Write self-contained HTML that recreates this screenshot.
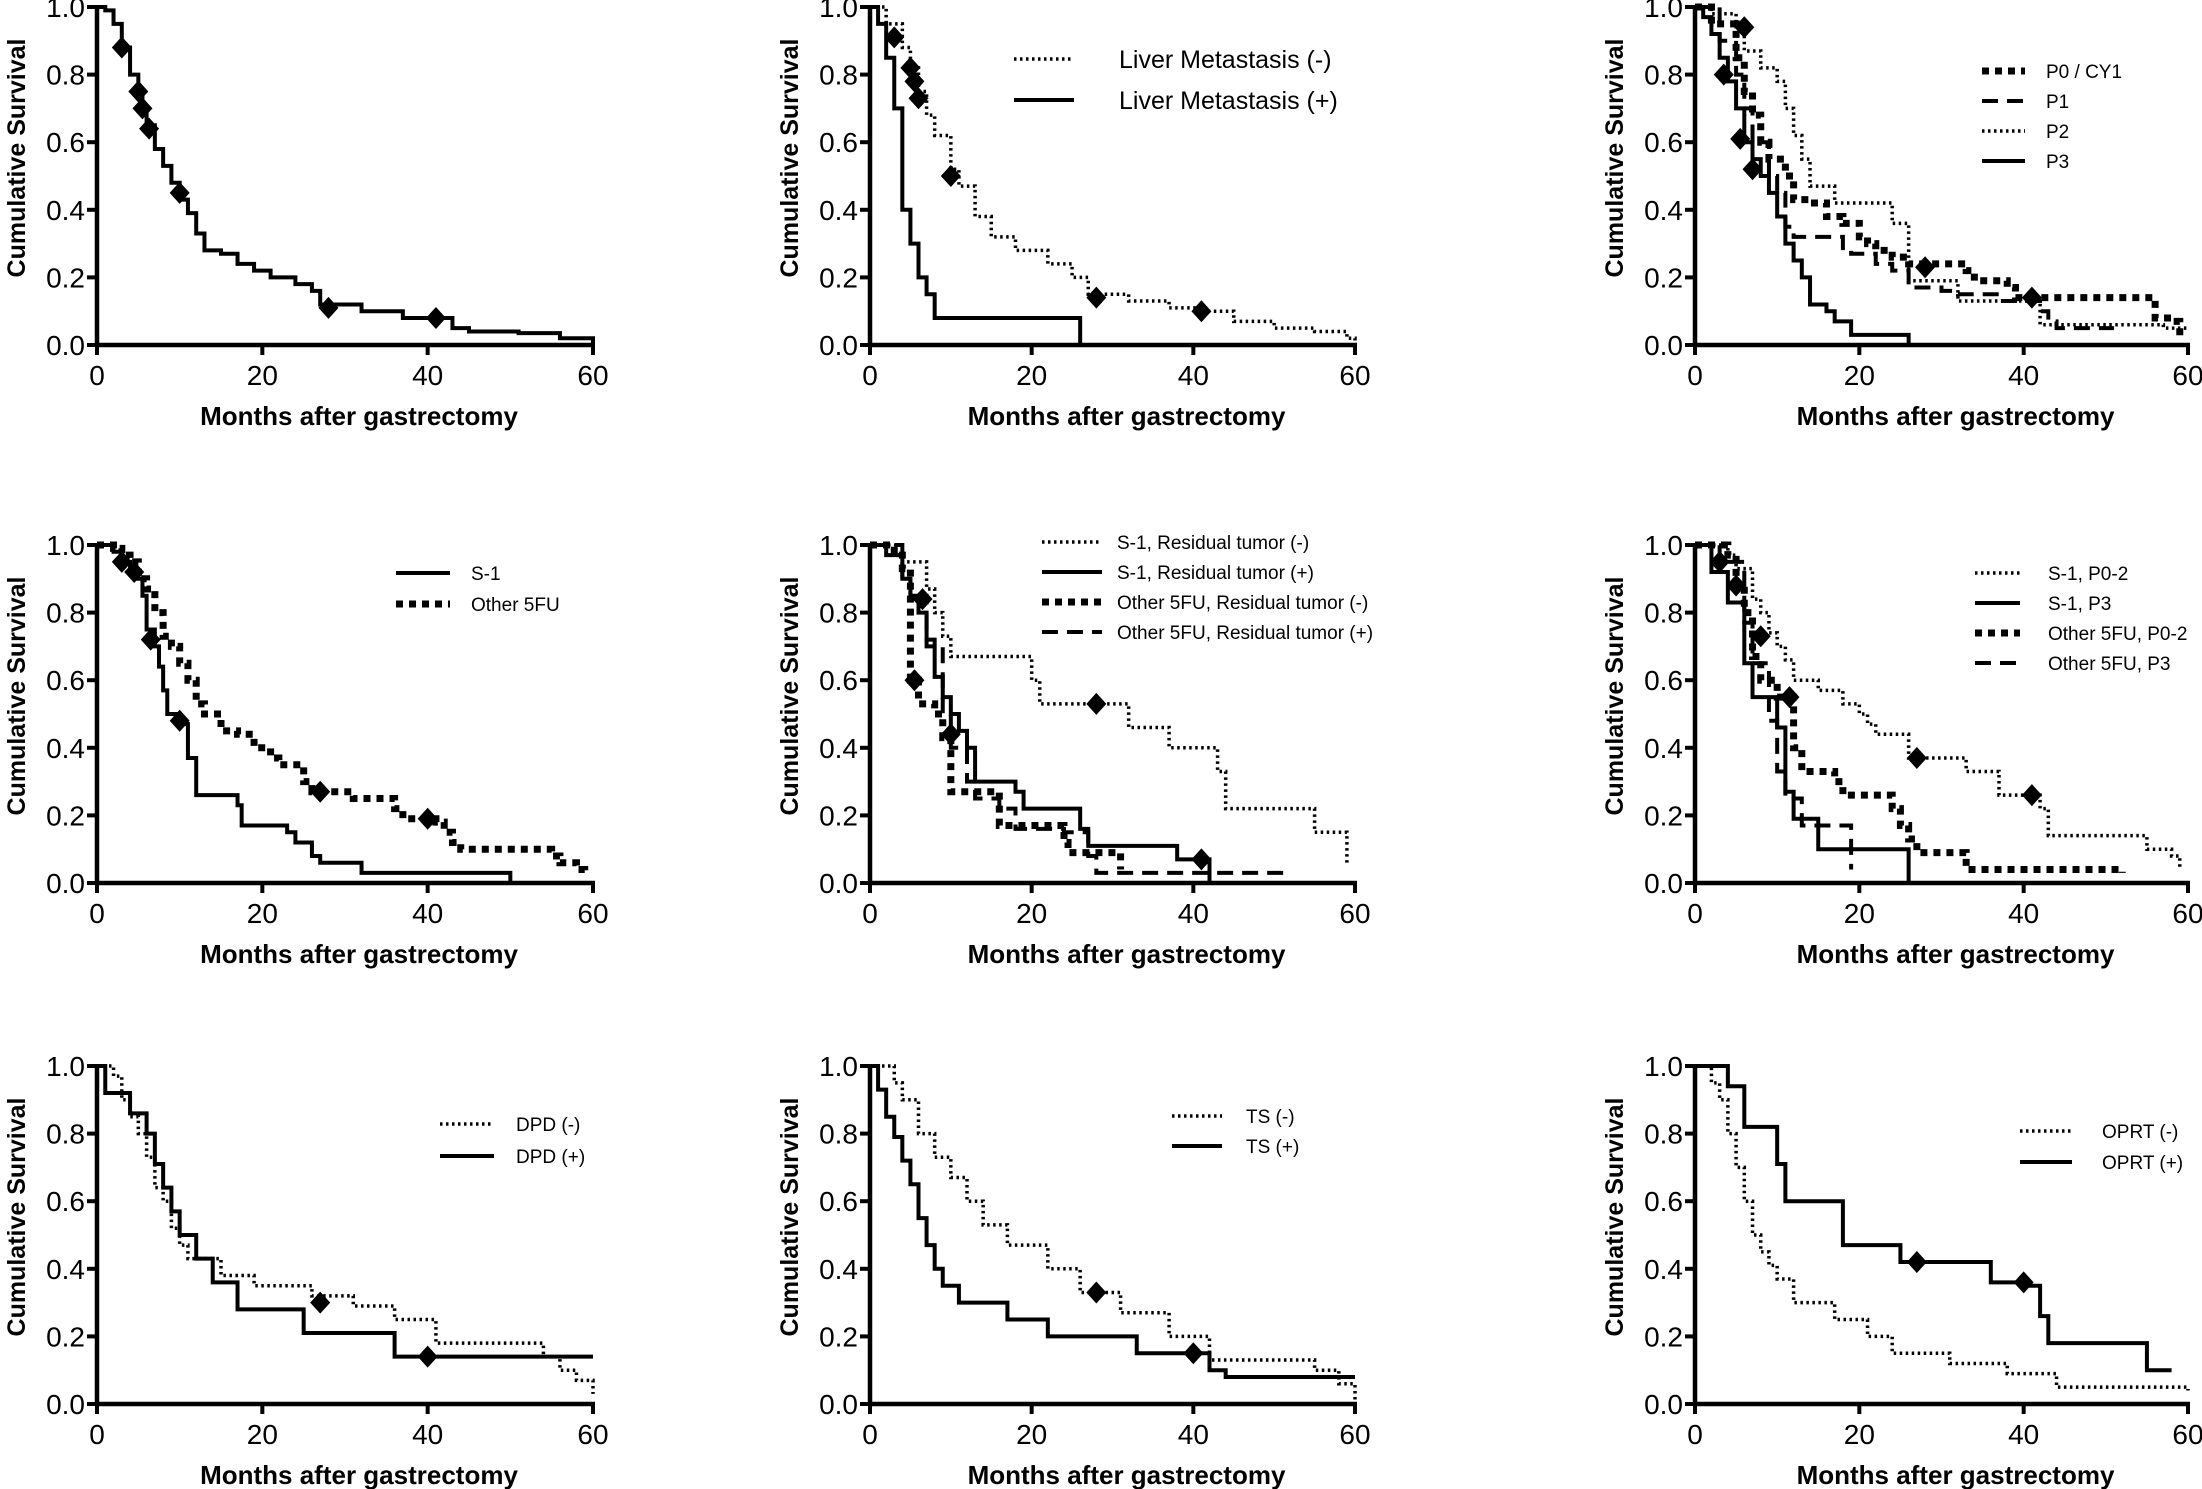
<!DOCTYPE html>
<html><head><meta charset="utf-8"><style>
html,body{margin:0;padding:0;background:#fff;}
svg{display:block;font-family:"Liberation Sans",Arial,sans-serif;}
</style></head><body>
<svg id="fig" width="2202" height="1489" viewBox="0 0 2202 1489" xmlns="http://www.w3.org/2000/svg"></svg>
<script>
// ===== Data (months, survival) =====
// Panel 1: overall
const p1_all_t=[0,1,2,3,4,5,5.5,6,7,8,9,10,11,12,13,15,17,19,21,24,26,27,32,37,43,45,51,56,60];
const p1_all_s=[1,0.99,0.95,0.88,0.8,0.75,0.7,0.65,0.58,0.53,0.48,0.43,0.39,0.33,0.28,0.27,0.24,0.22,0.2,0.18,0.16,0.12,0.1,0.08,0.05,0.04,0.035,0.02,0];
const p1_cen_t=[3,5,5.5,6.3,10,28,41];
const p1_cen_s=[0.88,0.75,0.70,0.64,0.45,0.11,0.08];
// Panel 2: liver metastasis
const p2_neg_t=[0,2,4,5,6,7,8,10,11,13,15,18,22,25,27,32,37,41,45,50,55,59,60];
const p2_neg_s=[1,0.95,0.88,0.82,0.75,0.68,0.62,0.52,0.47,0.38,0.32,0.28,0.24,0.2,0.15,0.13,0.11,0.1,0.07,0.05,0.04,0.02,0];
const p2_pos_t=[0,1,2,3,4,5,6,7,8,26];
const p2_pos_s=[1,0.95,0.85,0.7,0.4,0.3,0.2,0.15,0.08,0];
const p2_cen_t=[3,5,5.5,6,10,28,41];
const p2_cen_s=[0.91,0.82,0.78,0.73,0.5,0.14,0.1];
// Panel 3: peritoneal
const p3_p0_t=[0,2,5,6,7,8,9,11,12,14,16,18,20,21,22,24,26,33,34,38,39,56,58,59];
const p3_p0_s=[1,0.95,0.85,0.75,0.68,0.6,0.55,0.5,0.43,0.42,0.38,0.36,0.32,0.3,0.28,0.26,0.24,0.22,0.19,0.17,0.14,0.08,0.07,0.02];
const p3_p1_t=[0,3,5,6,7,9,10,11,12,18,19,22,24,26,30,32,37,42,43,44,51];
const p3_p1_s=[1,0.9,0.8,0.7,0.6,0.5,0.45,0.35,0.32,0.28,0.27,0.24,0.22,0.17,0.16,0.15,0.13,0.1,0.07,0.05,0.05];
const p3_p2_t=[0,2,5,6,8,10,11,12,13,14,17,24,26,32,42,56,57,60];
const p3_p2_s=[1,0.98,0.93,0.87,0.82,0.78,0.7,0.62,0.55,0.47,0.42,0.36,0.19,0.13,0.06,0.06,0.05,0.05];
const p3_p3_t=[0,1,2,3,4,5,6,7,8,9,10,11,12,13,14,16,17,19,26];
const p3_p3_s=[1,0.97,0.92,0.85,0.78,0.7,0.6,0.55,0.5,0.45,0.38,0.3,0.25,0.2,0.12,0.1,0.07,0.03,0];
const p3_cen_t=[6,3.5,5.5,7,28,41];
const p3_cen_s=[0.94,0.8,0.61,0.52,0.23,0.14];
// Panel 4: S-1 vs other 5FU
const p4_s1_t=[0,2,3,4,5,5.5,6,7,7.5,8,8.5,10,11,12,17,17.5,23,24,26,27,32,50];
const p4_s1_s=[1,0.98,0.95,0.92,0.9,0.85,0.75,0.7,0.64,0.57,0.5,0.47,0.37,0.26,0.23,0.17,0.15,0.12,0.08,0.06,0.03,0];
const p4_fu_t=[0,2,3,4,5,6,7,8,9,10,11,12,13,15,17,19,21,22,25,26,31,36,37,41,42,43,44,55,56,58,59];
const p4_fu_s=[1,0.99,0.97,0.95,0.9,0.87,0.8,0.73,0.7,0.65,0.6,0.53,0.5,0.45,0.44,0.4,0.37,0.35,0.3,0.27,0.25,0.22,0.19,0.18,0.15,0.12,0.1,0.08,0.06,0.04,0.02];
const p4_cen_t=[6.5,10,3,4.5,27,40];
const p4_cen_s=[0.72,0.48,0.95,0.92,0.27,0.19];
// Panel 5: drug x residual tumor
const p5_a_t=[0,4,7,8,9,10,20,21,32,37,43,44,55,59];
const p5_a_s=[1,0.95,0.87,0.8,0.73,0.67,0.6,0.53,0.46,0.4,0.33,0.22,0.15,0.06];
const p5_b_t=[0,2,4,5,6,7,8,9,10,11,12,13,15,18,19,26,27,38,42];
const p5_b_s=[1,0.97,0.9,0.85,0.8,0.72,0.61,0.55,0.5,0.45,0.4,0.3,0.3,0.27,0.22,0.16,0.11,0.07,0];
const p5_c_t=[0,3,4,5,6,8,9,10,15,16,24,24.5,31];
const p5_c_s=[1,0.97,0.93,0.6,0.53,0.5,0.43,0.27,0.27,0.17,0.12,0.09,0.04];
const p5_d_t=[0,4,5,7,9,10,12,13,16,18,24,27,28,52];
const p5_d_s=[1,0.9,0.85,0.7,0.5,0.4,0.3,0.25,0.22,0.16,0.15,0.08,0.03,0.03];
const p5_cen_t=[28,6.5,41,5.5,10];
const p5_cen_s=[0.53,0.84,0.07,0.6,0.44];
// Panel 6: drug x P stage
const p6_a_t=[0,3,4,5,7,8,9,10,11,12,15,18,20,21,22,26,33,37,42,43,55,58,59];
const p6_a_s=[1,1,0.97,0.93,0.84,0.8,0.74,0.7,0.66,0.6,0.57,0.53,0.5,0.47,0.44,0.37,0.33,0.26,0.22,0.14,0.1,0.08,0.04];
const p6_b_t=[0,2,4,6,7,10,11,12,15,26];
const p6_b_s=[1,0.92,0.83,0.65,0.55,0.46,0.27,0.19,0.1,0];
const p6_c_t=[0,4,5,6,7,8,10,12,13,17,18,24,25,26,27,33,52];
const p6_c_s=[1,0.97,0.88,0.8,0.67,0.6,0.55,0.4,0.33,0.3,0.26,0.22,0.17,0.13,0.09,0.04,0.03];
const p6_d_t=[0,3,6,7,9,10,11,13,18,19];
const p6_d_s=[1,0.95,0.77,0.65,0.48,0.33,0.25,0.17,0.17,0.04];
const p6_cen_t=[27,41,3,5,8,11.5];
const p6_cen_s=[0.37,0.26,0.95,0.88,0.73,0.55];
// Panel 7: DPD
const p7_neg_t=[0,2,3,4,5,6,7,8,9,10,11,15,19,26,31,36,41,54,56,58,60];
const p7_neg_s=[1,0.97,0.9,0.85,0.8,0.73,0.64,0.6,0.52,0.47,0.43,0.38,0.35,0.32,0.29,0.25,0.18,0.14,0.1,0.07,0.03];
const p7_pos_t=[0,1,4,6,7,8,9,10,12,14,17,25,36,60];
const p7_pos_s=[1,0.92,0.86,0.8,0.71,0.64,0.57,0.5,0.43,0.36,0.28,0.21,0.14,0.14];
const p7_cen_t=[27,40];
const p7_cen_s=[0.3,0.14];
// Panel 8: TS
const p8_neg_t=[0,3,4,6,8,10,12,14,17,22,26,31,37,42,55,58,60];
const p8_neg_s=[1,0.95,0.9,0.8,0.73,0.67,0.6,0.53,0.47,0.4,0.33,0.27,0.2,0.13,0.1,0.06,0];
const p8_pos_t=[0,1,2,3,4,5,6,7,8,9,11,17,22,33,42,44,60];
const p8_pos_s=[1,0.93,0.85,0.79,0.72,0.65,0.55,0.47,0.4,0.35,0.3,0.25,0.2,0.15,0.1,0.08,0.08];
const p8_cen_t=[28,40];
const p8_cen_s=[0.33,0.15];
// Panel 9: OPRT
const p9_neg_t=[0,2,3,4,5,6,7,8,9,10,12,17,21,24,31,38,44,60];
const p9_neg_s=[1,0.95,0.9,0.8,0.7,0.6,0.5,0.45,0.41,0.37,0.3,0.25,0.2,0.15,0.12,0.09,0.05,0.04];
const p9_pos_t=[0,4,6,10,11,18,25,36,40,42,43,55,58];
const p9_pos_s=[1,0.94,0.82,0.71,0.6,0.47,0.42,0.36,0.35,0.26,0.18,0.1,0.1];
const p9_cen_t=[27,40];
const p9_cen_s=[0.42,0.36];

const yTicks=["0.0","0.2","0.4","0.6","0.8","1.0"];
const xTicks=["0","20","40","60"];

const NS="http://www.w3.org/2000/svg";
const svg=document.getElementById('fig');
function el(tag,attrs,parent){const e=document.createElementNS(NS,tag);for(const k in attrs)e.setAttribute(k,attrs[k]);(parent||svg).appendChild(e);return e;}

const STY={
 solid:{w:4,d:null},
 dot:{w:3.5,d:"2.5 3.5"},
 bigdot:{w:7,d:"7 6"},
 dash:{w:4,d:"16 9"}
};

function panel(name,x0,x1,y1,y0,series,cenT,cenS,legend){
  const g=el('g',{});
  
  
  const X=t=>x0+(x1-x0)*t/60;
  const Y=s=>y0-(y0-y1)*s;
  // series
  series.forEach(sr=>{
    let d="M"+X(sr.t[0])+" "+Y(sr.s[0]);
    for(let i=1;i<sr.t.length;i++){d+=" H"+X(sr.t[i])+" V"+Y(sr.s[i]);}
    const st=STY[sr.style];
    const p=el('path',{d:d,fill:'none',stroke:'#000','stroke-width':st.w,'stroke-linejoin':'miter'},g);
    if(st.d)p.setAttribute('stroke-dasharray',st.d);
    
    
  });
  // censor diamonds
  for(let i=0;i<cenT.length;i++){
    const cx=X(cenT[i]),cy=Y(cenS[i]);
    const m=el('path',{d:`M${cx} ${cy-11} L${cx+10} ${cy} L${cx} ${cy+11} L${cx-10} ${cy} Z`,fill:'#000'},g);
    
    
  }
  // axes
  const ya=el('line',{x1:x0,y1:y1,x2:x0,y2:y0+2,stroke:'#000','stroke-width':4.5},g);
  
  
  const xa=el('line',{x1:x0-2,y1:y0,x2:x1+2,y2:y0,stroke:'#000','stroke-width':4.5},g);
  
  
  yTicks.forEach((lab,i)=>{
    const v=parseFloat(lab);const yy=Y(v);
    el('line',{x1:x0-10,y1:yy,x2:x0,y2:yy,stroke:'#000','stroke-width':4},g);
    const t=el('text',{x:x0-12,y:yy+10,'text-anchor':'end','font-size':28},g);
    t.textContent=lab;
    
    
  });
  xTicks.forEach(lab=>{
    const xx=X(parseFloat(lab));
    el('line',{x1:xx,y1:y0,x2:xx,y2:y0+10,stroke:'#000','stroke-width':4},g);
    const t=el('text',{x:xx,y:y0+40,'text-anchor':'middle','font-size':28},g);
    t.textContent=lab;
    
    
  });
  const xt=el('text',{x:(x0+x1)/2+14,y:y0+80,'text-anchor':'middle','font-size':26,'font-weight':'bold'},g);
  xt.textContent="Months after gastrectomy";
  
  
  const cy=(y0+y1)/2-18, cx=x0-72;
  const yt=el('text',{x:cx,y:cy,'text-anchor':'middle','font-size':25,'font-weight':'bold',transform:`rotate(-90 ${cx} ${cy})`},g);
  yt.textContent="Cumulative Survival";
  
  
  // legend
  if(legend){
    legend.items.forEach((it,i)=>{
      const yy=legend.y+i*legend.dy;
      const st=STY[it.style];
      const l=el('line',{x1:legend.lx1,y1:yy,x2:legend.lx2,y2:yy,stroke:'#000','stroke-width':st.w},g);
      if(st.d)l.setAttribute('stroke-dasharray',st.d);
      
      
      const t=el('text',{x:legend.tx,y:yy+legend.fs*0.36,'font-size':legend.fs},g);
      t.textContent=it.label;
      
      
    });
  }
}

// columns/rows in pixels
const C1=[97,593],C2=[870,1355],C3=[1695,2188];
const R1=[7,345],R2=[545,883],R3=[1066,1404];

panel('overall-survival-panel',C1[0],C1[1],R1[0],R1[1],
 [{t:p1_all_t,s:p1_all_s,style:'solid',name:'overall-curve'}],p1_cen_t,p1_cen_s,null);

panel('liver-metastasis-panel',C2[0],C2[1],R1[0],R1[1],
 [{t:p2_neg_t,s:p2_neg_s,style:'dot',name:'liver-neg-curve'},{t:p2_pos_t,s:p2_pos_s,style:'solid',name:'liver-pos-curve'}],
 p2_cen_t,p2_cen_s,{lx1:1014,lx2:1074,tx:1119,y:59,dy:41,fs:25,items:[{style:'dot',label:'Liver Metastasis (-)'},{style:'solid',label:'Liver Metastasis (+)'}]});

panel('peritoneal-panel',C3[0],C3[1],R1[0],R1[1],
 [{t:p3_p0_t,s:p3_p0_s,style:'bigdot',name:'p0-cy1-curve'},{t:p3_p1_t,s:p3_p1_s,style:'dash',name:'p1-curve'},
  {t:p3_p2_t,s:p3_p2_s,style:'dot',name:'p2-curve'},{t:p3_p3_t,s:p3_p3_s,style:'solid',name:'p3-curve'}],
 p3_cen_t,p3_cen_s,{lx1:1982,lx2:2025,tx:2046,y:71,dy:30,fs:19,items:[{style:'bigdot',label:'P0 / CY1'},{style:'dash',label:'P1'},{style:'dot',label:'P2'},{style:'solid',label:'P3'}]});

panel('s1-vs-5fu-panel',C1[0],C1[1],R2[0],R2[1],
 [{t:p4_s1_t,s:p4_s1_s,style:'solid',name:'s1-curve'},{t:p4_fu_t,s:p4_fu_s,style:'bigdot',name:'other-5fu-curve'}],
 p4_cen_t,p4_cen_s,{lx1:396,lx2:450,tx:471,y:573,dy:31,fs:19,items:[{style:'solid',label:'S-1'},{style:'bigdot',label:'Other 5FU'}]});

panel('residual-tumor-panel',C2[0],C2[1],R2[0],R2[1],
 [{t:p5_a_t,s:p5_a_s,style:'dot',name:'s1-res-neg-curve'},{t:p5_b_t,s:p5_b_s,style:'solid',name:'s1-res-pos-curve'},
  {t:p5_c_t,s:p5_c_s,style:'bigdot',name:'5fu-res-neg-curve'},{t:p5_d_t,s:p5_d_s,style:'dash',name:'5fu-res-pos-curve'}],
 p5_cen_t,p5_cen_s,{lx1:1042,lx2:1102,tx:1117,y:542,dy:30,fs:19,items:[{style:'dot',label:'S-1, Residual tumor (-)'},{style:'solid',label:'S-1, Residual tumor (+)'},{style:'bigdot',label:'Other 5FU, Residual tumor (-)'},{style:'dash',label:'Other 5FU, Residual tumor (+)'}]});

panel('drug-p-stage-panel',C3[0],C3[1],R2[0],R2[1],
 [{t:p6_a_t,s:p6_a_s,style:'dot',name:'s1-p02-curve'},{t:p6_b_t,s:p6_b_s,style:'solid',name:'s1-p3-curve'},
  {t:p6_c_t,s:p6_c_s,style:'bigdot',name:'5fu-p02-curve'},{t:p6_d_t,s:p6_d_s,style:'dash',name:'5fu-p3-curve'}],
 p6_cen_t,p6_cen_s,{lx1:1975,lx2:2020,tx:2048,y:573,dy:30,fs:19,items:[{style:'dot',label:'S-1, P0-2'},{style:'solid',label:'S-1, P3'},{style:'bigdot',label:'Other 5FU, P0-2'},{style:'dash',label:'Other 5FU, P3'}]});

panel('dpd-panel',C1[0],C1[1],R3[0],R3[1],
 [{t:p7_neg_t,s:p7_neg_s,style:'dot',name:'dpd-neg-curve'},{t:p7_pos_t,s:p7_pos_s,style:'solid',name:'dpd-pos-curve'}],
 p7_cen_t,p7_cen_s,{lx1:440,lx2:494,tx:516,y:1124,dy:32,fs:19,items:[{style:'dot',label:'DPD (-)'},{style:'solid',label:'DPD (+)'}]});

panel('ts-panel',C2[0],C2[1],R3[0],R3[1],
 [{t:p8_neg_t,s:p8_neg_s,style:'dot',name:'ts-neg-curve'},{t:p8_pos_t,s:p8_pos_s,style:'solid',name:'ts-pos-curve'}],
 p8_cen_t,p8_cen_s,{lx1:1172,lx2:1222,tx:1246,y:1116,dy:30,fs:19,items:[{style:'dot',label:'TS (-)'},{style:'solid',label:'TS (+)'}]});

panel('oprt-panel',C3[0],C3[1],R3[0],R3[1],
 [{t:p9_neg_t,s:p9_neg_s,style:'dot',name:'oprt-neg-curve'},{t:p9_pos_t,s:p9_pos_s,style:'solid',name:'oprt-pos-curve'}],
 p9_cen_t,p9_cen_s,{lx1:2020,lx2:2072,tx:2102,y:1131,dy:31,fs:19,items:[{style:'dot',label:'OPRT (-)'},{style:'solid',label:'OPRT (+)'}]});
</script>
</body></html>
